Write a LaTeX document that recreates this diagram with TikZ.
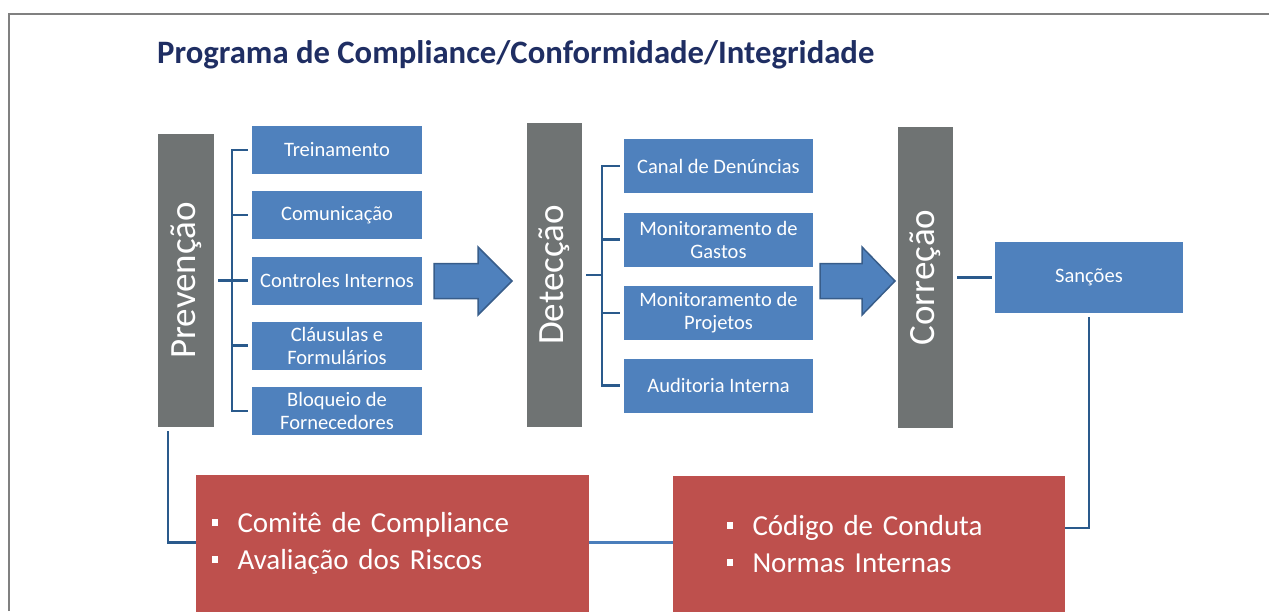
\documentclass[tikz,border=0pt]{standalone}
\usepackage{fontspec}
\setmainfont{Carlito}
\usetikzlibrary{calc}
\definecolor{bluebox}{HTML}{4F81BD}
\definecolor{arrowline}{HTML}{385D8A}
\definecolor{grayc}{HTML}{6F7373}
\definecolor{redc}{HTML}{BE504D}
\definecolor{titlec}{HTML}{1F2E63}
\definecolor{connc}{HTML}{2A5A8C}
\definecolor{connl}{HTML}{4A7EBB}
\definecolor{framec}{HTML}{808080}
\newcommand\redbullet{\makebox[26pt][l]{\rule[7pt]{6.5pt}{6.5pt}}}
\begin{document}
\begin{tikzpicture}[x=1pt,y=-1pt,
  bar/.style={fill=grayc,draw=none,inner sep=0},
  barlabel/.style={rotate=90,text=white,inner sep=0,font=\fontsize{37}{40}\selectfont},
  item/.style={fill=bluebox,text=white,inner sep=0,align=center,font=\fontsize{20.5}{23}\selectfont},
  redbox/.style={fill=redc,text=white,inner ysep=0,align=left,minimum height=137,font=\fontsize{29}{37}\selectfont},
  conn/.style={draw=connc,line width=2.2},
  blockarrow/.style={fill=bluebox,draw=arrowline,line width=1.5,line join=miter},
  frame/.style={draw=framec,line width=2}]
\useasboundingbox (0,0) rectangle (1269,611);
\draw[frame] (8.5,611) -- (8.5,13.5) -- (1269,13.5);

\node[anchor=base west,inner sep=0,text=titlec,font=\fontsize{32.7}{38}\selectfont\bfseries] (title) at (157,63) {Programa de Compliance/Conformidade/Integridade};

% gray bars
\node[bar,minimum width=56,minimum height=293,label={[barlabel]center:Prevenção}] (prev) at (186,280.5) {};
\node[bar,minimum width=55,minimum height=304,label={[barlabel]center:Detecção}] (det) at (554.5,275) {};
\node[bar,minimum width=55,minimum height=301,label={[barlabel]center:Correção}] (cor) at (925.5,277.5) {};

% prevention items
\begin{scope}[every node/.style={item,minimum width=170,minimum height=48}]
\node (p1) at (337,150) {Treinamento};
\node (p2) at (337,215) {Comunicação};
\node (p3) at (337,280.5) {Controles Internos};
\node (p4) at (337,345.5) {Cláusulas e\\Formulários};
\node (p5) at (337,411) {Bloqueio de\\Fornecedores};
\end{scope}

% detection items
\begin{scope}[every node/.style={item,minimum width=189,minimum height=54}]
\node (d1) at (718.5,166) {Canal de Denúncias};
\node (d2) at (718.5,239.5) {Monitoramento de\\Gastos};
\node (d3) at (718.5,313) {Monitoramento de\\Projetos};
\node (d4) at (718.5,385.5) {Auditoria Interna};
\end{scope}

% correction item
\node[item,minimum width=188,minimum height=71] (san) at (1089,277.5) {Sanções};

% block arrows
\fill[blockarrow] (434,263.5) -- (478,263.5) -- (478,247) -- (512,281) -- (478,315) -- (478,298.5) -- (434,298.5) -- cycle;
\fill[blockarrow] (820,263.5) -- (862,263.5) -- (862,247) -- (895,281) -- (862,315) -- (862,298.5) -- (820,298.5) -- cycle;

% red boxes
\node[redbox,text width=362,inner xsep=15.5] (r1) at (392.5,543.5) {\redbullet Comitê de Compliance\\\redbullet Avaliação dos Riscos};
\node[redbox,text width=285,inner xsep=53.5] (r2) at (869,544.5) {\redbullet Código de Conduta\\\redbullet Normas Internas};

% prevention bracket
\draw[conn] ([xshift=-4]p1.west) -- ++(-16,0) |- ([xshift=-4]p5.west);
\foreach \n in {p2,p3,p4} \draw[conn] ([xshift=-4]\n.west) -- ++(-16,0);
\draw[conn] ([xshift=4]prev.east) -- ++(14,0);

% detection bracket
\draw[conn] ([xshift=-4]d1.west) -- ++(-18,0) |- ([xshift=-4]d4.west);
\foreach \n in {d2,d3} \draw[conn] ([xshift=-4]\n.west) -- ++(-18,0);
\draw[conn] ([xshift=4]det.east) -- ++(16,0);

% correction
\draw[conn] ([xshift=4]cor.east) -- ([xshift=-3]san.west);

% loop lines
\coordinate (lj) at (168,542.5);
\coordinate (rj) at (1089,528);
\draw[conn] ($(prev.south -| lj)+(0,4)$) -- (lj) -- (r1.west |- lj);
\draw[conn,draw=connl] (r1.east |- lj) -- (r2.west |- lj);
\draw[conn] ([yshift=-4]san.south) -- (rj) -- (r2.east |- rj);
\end{tikzpicture}
\end{document}
